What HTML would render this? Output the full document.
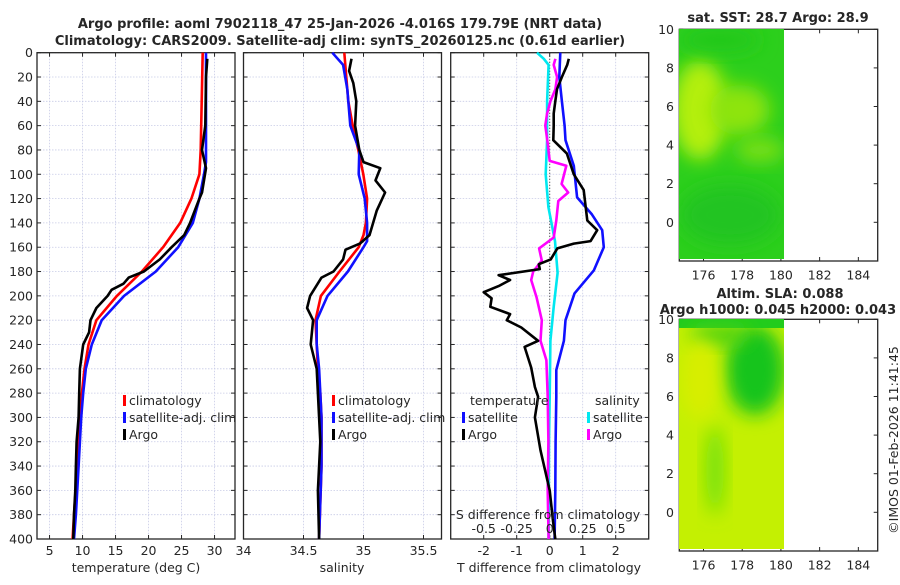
<!DOCTYPE html>
<html><head><meta charset="utf-8"><style>
body{margin:0;background:#fff}
svg text{font-family:"DejaVu Sans","Liberation Sans",sans-serif;fill:#262626}
</style></head><body>
<svg id="c" width="900" height="580" viewBox="0 0 900 580" xmlns="http://www.w3.org/2000/svg">
<defs>
<filter id="bl" x="-50%" y="-50%" width="200%" height="200%"><feGaussianBlur stdDeviation="9"/></filter>
<clipPath id="m1c"><rect x="679" y="29" width="105" height="230"/></clipPath>
<clipPath id="m2c"><rect x="679" y="319" width="105" height="230"/></clipPath>
</defs>
<g id="root"></g>
<text x="340" y="28" text-anchor="middle" font-size="13" font-weight="bold">Argo profile: aoml 7902118_47 25-Jan-2026 -4.016S 179.79E (NRT data)</text>
<text x="340" y="45" text-anchor="middle" font-size="13" font-weight="bold">Climatology: CARS2009. Satellite-adj clim: synTS_20260125.nc (0.61d earlier)</text>

<g clip-path="url(#m1c)">
<rect x="679" y="29" width="105" height="230" fill="#2ccf1c"/>
<ellipse cx="700" cy="110" rx="28" ry="50" fill="#b4ef08" filter="url(#bl)"/>
<ellipse cx="740" cy="110" rx="30" ry="25" fill="#8ee410" filter="url(#bl)"/>
<ellipse cx="760" cy="150" rx="25" ry="12" fill="#7ce012" filter="url(#bl)"/>
<ellipse cx="720" cy="40" rx="40" ry="12" fill="#22c81c" filter="url(#bl)"/>
<ellipse cx="730" cy="215" rx="50" ry="30" fill="#20c420" filter="url(#bl)"/>
</g>
<g clip-path="url(#m2c)">
<rect x="679" y="319" width="105" height="230" fill="#c4f002"/>
<ellipse cx="755" cy="370" rx="30" ry="45" fill="#18c41c" filter="url(#bl)"/>
<rect x="679" y="319" width="105" height="9" fill="#22cc1c"/>
<ellipse cx="720" cy="335" rx="30" ry="10" fill="#44d018" filter="url(#bl)"/>
<ellipse cx="715" cy="470" rx="9" ry="45" fill="#6ee010" filter="url(#bl)"/>
<ellipse cx="700" cy="380" rx="18" ry="40" fill="#d8ee00" filter="url(#bl)"/>
</g>
<text x="778" y="22" text-anchor="middle" font-size="13" font-weight="bold">sat. SST: 28.7 Argo: 28.9</text>
<text x="780" y="298" text-anchor="middle" font-size="13" font-weight="bold">Altim. SLA: 0.088</text>
<text x="778" y="314" text-anchor="middle" font-size="13" font-weight="bold">Argo h1000: 0.045 h2000: 0.043</text>
<text transform="translate(898,440) rotate(-90)" text-anchor="middle" font-size="12.5">©IMOS 01-Feb-2026 11:41:45</text>
</svg>
<script>
// ---------- data ----------
const tDepth=[0,80,100,120,140,160,180,200,220,240,260,280,300,340,380,400];
const tClim=[28.2,27.9,27.7,26.5,24.8,22.2,19.0,15.2,12.1,10.9,10.3,9.9,9.6,9.2,8.7,8.5];
const tSatDepth=[0,90,100,120,140,160,180,200,220,240,260,280,300,340,380,400];
const tSat=[28.7,28.7,28.4,27.7,26.7,24.5,21.1,16.3,12.9,11.4,10.5,10.1,9.8,9.4,9.0,8.7];
const tArgoDepth=[5,20,60,80,95,115,120,140,150,160,170,180,185,190,195,200,210,220,230,240,260,280,300,320,340,360,380,400];
const tArgo=[28.9,28.7,28.6,28.1,28.7,28.1,27.7,26.3,25.4,23.5,21.7,19.3,17.0,16.2,14.4,13.8,12.1,11.2,11.0,10.1,9.6,9.5,9.4,9.1,9.0,8.9,8.7,8.6];
const sDepth=[0,40,60,80,100,120,140,150,160,180,200,220,240,260,280,300,340,400];
const sClim=[34.84,34.873,34.91,34.957,34.998,35.03,35.02,35.0,34.96,34.80,34.645,34.60,34.61,34.62,34.64,34.65,34.65,34.63];
const sSatDepth=[0,10,30,60,80,100,120,140,155,160,180,200,220,240,260,300,340,400];
const sSat=[34.74,34.83,34.865,34.89,34.965,34.96,35.01,35.03,35.03,35.0,34.87,34.70,34.61,34.61,34.63,34.65,34.65,34.63];
const sArgoDepth=[5,15,25,40,60,80,90,95,105,115,130,150,157,162,170,180,185,200,210,220,240,260,280,300,320,360,400];
const sArgo=[34.90,34.88,34.915,34.94,34.93,34.965,35.0,35.14,35.10,35.18,35.11,35.05,34.97,34.85,34.83,34.75,34.65,34.555,34.53,34.58,34.56,34.61,34.62,34.63,34.64,34.62,34.63];
const dTSatDepth=[0,20,40,60,72,93,119,133,146,160,179,198,220,237,261,283,320,360,400];
const dTSat=[0.32,0.29,0.37,0.45,0.48,0.73,0.83,1.28,1.59,1.64,1.34,0.75,0.48,0.43,0.2,0.2,0.18,0.17,0.15];
const dTArgoDepth=[5,10,20,30,40,50,60,72,83,100,113,127,138,146,155,157,161,170,174,178,183,187,192,197,202,209,215,220,226,237,242,259,275,283,300,327,360,385,400];
const dTArgo=[0.58,0.53,0.37,0.22,0.17,0.12,0.12,0.11,0.52,0.73,1.03,1.09,1.14,1.44,1.24,0.73,0.23,0.03,-0.33,-0.3,-1.55,-1.2,-1.55,-2.0,-1.76,-1.8,-1.2,-1.3,-0.86,-0.35,-0.76,-0.56,-0.45,-0.35,-0.45,-0.28,0.0,0.1,0.17];
const dSSatDepth=[0,5,10,40,72,100,127,155,181,209,237,283,320,400];
const dSSat=[-0.096,-0.045,-0.008,-0.02,-0.02,-0.03,-0.01,0.04,0.06,0.03,0.005,0.0,-0.005,-0.008];
const dSArgoDepth=[5,10,20,30,40,50,60,72,89,93,108,115,122,138,152,161,171,180,187,201,220,237,253,283,320,360,400];
const dSArgo=[0.043,0.03,0.056,0.043,0.005,-0.02,-0.033,-0.018,0.0,0.126,0.09,0.14,0.065,0.05,0.03,-0.08,-0.06,-0.125,-0.14,-0.10,-0.06,-0.07,-0.025,-0.015,-0.01,-0.015,-0.008];
const depthTicks=[0,20,40,60,80,100,120,140,160,180,200,220,240,260,280,300,320,340,360,380,400];
const tTicks=[5,10,15,20,25,30];
const sTicks=[34,34.5,35,35.5];
const dTTicks=[-2,-1,0,1,2];
const dSTicks=[-0.5,-0.25,0,0.25,0.5];
const dSTickLabels=["-0.5","-0.25","0","0.25","0.5"];
const lonTicks=[176,178,180,182,184];
const latTicks=[0,2,4,6,8,10];

// ---------- helpers ----------
const NS="http://www.w3.org/2000/svg";
const root=document.getElementById('root');
function mk(tag,attrs,parent){const e=document.createElementNS(NS,tag);for(const k in attrs)e.setAttribute(k,attrs[k]);(parent||root).appendChild(e);return e;}
const Y0=52.7,Y1=539;
const yD=d=>Y0+(Y1-Y0)*d/400;
function lin(d0,d1,r0,r1){return v=>r0+(v-d0)*(r1-r0)/(d1-d0);}
const panels=[{x0:37,x1:235,dom:[3.1,33.1]},{x0:243.5,x1:441.5,dom:[34,35.65]},{x0:450.7,x1:648.7,dom:[-3,3]}];
const xT=lin(3.1,33.1,37,235), xS=lin(34,35.65,243.5,441.5), xDT=lin(-3,3,450.7,648.7), xDS=v=>xDT(v*4);

function frame(p,ticks,fmt,showY,name){
  const g=mk('g',{});
  
  
  const sc=lin(p.dom[0],p.dom[1],p.x0,p.x1);
  depthTicks.forEach(d=>{const l=mk('line',{x1:p.x0,x2:p.x1,y1:yD(d),y2:yD(d),stroke:'#c8cbe6','stroke-width':0.8,'stroke-dasharray':'1.5,1.5'},g);
    
    mk('line',{x1:p.x0,x2:p.x0+4,y1:yD(d),y2:yD(d),stroke:'#262626'},g);
    mk('line',{x1:p.x1,x2:p.x1-4,y1:yD(d),y2:yD(d),stroke:'#262626'},g);
    if(showY){const t=mk('text',{x:p.x0-4,y:yD(d)+4.5,'text-anchor':'end','font-size':12.5},g);t.textContent=d;
      }
  });
  ticks.forEach((v,i)=>{const x=sc(v);
    const l=mk('line',{x1:x,x2:x,y1:Y0,y2:Y1,stroke:'#c8cbe6','stroke-width':0.8,'stroke-dasharray':'1.5,1.5'},g);
    
    mk('line',{x1:x,x2:x,y1:Y1,y2:Y1-4,stroke:'#262626'},g);
    mk('line',{x1:x,x2:x,y1:Y0,y2:Y0+4,stroke:'#262626'},g);
    const t=mk('text',{x:x,y:555,'text-anchor':'middle','font-size':12.5},g);t.textContent=fmt(v);
    
  });
  mk('rect',{x:p.x0,y:Y0,width:p.x1-p.x0,height:Y1-Y0,fill:'none',stroke:'#262626','stroke-width':1.3},g);
  return g;
}
frame(panels[0],tTicks,v=>v,true,'temperature-panel');
frame(panels[1],sTicks,v=>v,false,'salinity-panel');
frame(panels[2],dTTicks,v=>v,false,'difference-panel');
const z=mk('line',{x1:xDT(0),x2:xDT(0),y1:Y0,y2:Y1,stroke:'#333','stroke-dasharray':'1,2'});


function series(depths,vals,sx,color,name,w){
  const pts=depths.map((d,i)=>sx(vals[i]).toFixed(1)+','+yD(d).toFixed(1)).join(' ');
  const pl=mk('polyline',{points:pts,fill:'none',stroke:color,'stroke-width':w||2.6,'stroke-linejoin':'round'});
  
  
}
series(tDepth,tClim,xT,'#ff0000','temp-climatology-line');
series(tSatDepth,tSat,xT,'#1010ff','temp-satellite-line');
series(tArgoDepth,tArgo,xT,'#000','temp-argo-line');
series(sDepth,sClim,xS,'#ff0000','sal-climatology-line');
series(sSatDepth,sSat,xS,'#1010ff','sal-satellite-line');
series(sArgoDepth,sArgo,xS,'#000','sal-argo-line');
series(dSSatDepth,dSSat,xDS,'#00e8f0','dsal-satellite-line');
series(dSArgoDepth,dSArgo,xDS,'#ff00ff','dsal-argo-line');
series(dTSatDepth,dTSat,xDT,'#1010ff','dtemp-satellite-line');
series(dTArgoDepth,dTArgo,xDT,'#000','dtemp-argo-line');

function txt(x,y,s,name,opt){const t=mk('text',Object.assign({x:x,y:y,'font-size':12.5},opt||{}));t.textContent=s;
  return t;}
function leg(x,y,c,s,name){const r=mk('rect',{x:x,y:y-10,width:3,height:11,fill:c});
  
  txt(x+6,y,s,name);}
[[123,'#ff0000','climatology'],[123,'#1010ff','satellite-adj. clim'],[123,'#000','Argo']].forEach((l,i)=>leg(l[0],405+i*17,l[1],l[2],'temp-legend-entry'));
[[332,'#ff0000','climatology'],[332,'#1010ff','satellite-adj. clim'],[332,'#000','Argo']].forEach((l,i)=>leg(l[0],405+i*17,l[1],l[2],'sal-legend-entry'));
txt(470,405,'temperature','diff-legend-temp-heading');
leg(462,422,'#1010ff','satellite','diff-legend-entry');
leg(462,439,'#000','Argo','diff-legend-entry');
txt(595,405,'salinity','diff-legend-sal-heading');
leg(587,422,'#00e8f0','satellite','diff-legend-entry');
leg(587,439,'#ff00ff','Argo','diff-legend-entry');
txt(548,519,'S difference from climatology','s-axis-title',{'text-anchor':'middle'});
dSTicks.forEach((v,i)=>txt(xDS(v),533,dSTickLabels[i],'s-tick-label',{'text-anchor':'middle'}));
txt(136,572,'temperature (deg C)','x-axis-title-temp',{'text-anchor':'middle'});
txt(342,572,'salinity','x-axis-title-sal',{'text-anchor':'middle'});
txt(549,572,'T difference from climatology','x-axis-title-diff',{'text-anchor':'middle'});

const mLon=lin(174.75,185,679.3,877.7);
function mapAxes(top,name){
  const latY=lin(0,10,top+193,top);
  const g=mk('g',{});
  
  
  mk('rect',{x:679.3,y:top,width:198.4,height:231.7,fill:'none',stroke:'#262626','stroke-width':1.3},g);
  lonTicks.forEach(v=>{const x=mLon(v);mk('line',{x1:x,x2:x,y1:top+231.7,y2:top+227.7,stroke:'#262626'},g);mk('line',{x1:x,x2:x,y1:top,y2:top+4,stroke:'#262626'},g);
    txt(x,top+250,String(v),'lon-tick-label',{'text-anchor':'middle'});});
  latTicks.forEach(v=>{const y=latY(v);mk('line',{x1:679.3,x2:683.3,y1:y,y2:y,stroke:'#262626'},g);mk('line',{x1:877.7,x2:873.7,y1:y,y2:y,stroke:'#262626'},g);
    txt(674,y+4.5,String(v),'lat-tick-label',{'text-anchor':'end'});});
  const c=mk('circle',{cx:mLon(179.79),cy:latY(4.0),r:5,fill:'#3ed01c',stroke:'#000','stroke-width':1.2});
  
}
mapAxes(29.3,'sst-map-axes');
mapAxes(319.3,'sla-map-axes');
</script>
</body></html>
